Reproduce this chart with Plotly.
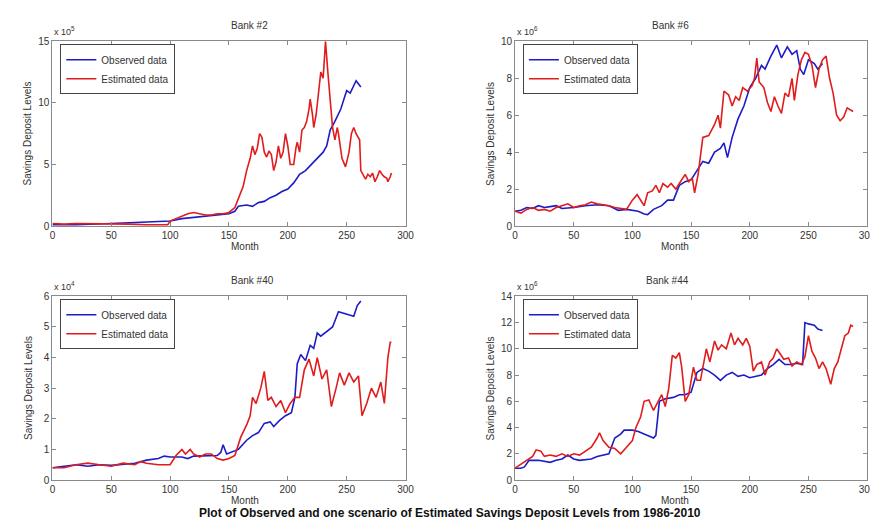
import plotly.graph_objects as go

# ─── 配色 ───
COLORS = {
    'observed':  '#1c1cc8',   # 蓝色 — 观测数据
    'estimated': '#e01c1c',   # 红色 — 估计数据
    'axis':      '#8a8a8a',
    'text':      '#333333',
}
FONT = 'Liberation Sans, Arial, sans-serif'

# ─── 数据（按坐标轴缩放后的数值） ───
# Bank #2  (x 10^5)
B2_OBS_M = [0, 20, 50, 80, 100, 110, 120, 130, 140, 150, 155, 158, 165, 170, 175, 180, 185, 190,
            195, 200, 205, 210, 215, 220, 225, 230, 233, 236, 240, 245, 250, 253, 258, 262]
B2_OBS_V = [0.1, 0.1, 0.2, 0.3, 0.4, 0.6, 0.7, 0.8, 0.9, 1.0, 1.2, 1.6, 1.7, 1.6, 1.9, 2.0, 2.3, 2.5,
            2.8, 3.0, 3.5, 4.2, 4.5, 5.0, 5.5, 6.0, 6.5, 7.8, 8.5, 9.5, 11.0, 10.8, 11.8, 11.3]
B2_EST_M = [0, 10, 20, 35, 50, 65, 80, 98, 100, 105, 110, 115, 120, 125, 130, 135, 140, 145, 150,
            155, 158, 162, 165, 168, 170, 172, 174, 176, 178, 180, 182, 184, 186, 188, 190, 192,
            194, 196, 198, 200, 202, 205, 207, 208, 210, 212, 214, 216, 218, 219, 221, 222, 224,
            225, 227, 228, 230, 231, 232, 234, 236, 238, 240, 242, 243, 246, 249, 252, 254, 256,
            258, 259, 261, 262, 264, 266, 268, 270, 272, 274, 276, 278, 280, 282, 284, 285, 287, 288]
B2_EST_V = [0.2, 0.15, 0.2, 0.2, 0.2, 0.15, 0.1, 0.1, 0.4, 0.6, 0.8, 1.0, 1.1, 1.0, 0.9, 0.9, 1.0,
            1.0, 1.1, 1.5, 2.2, 3.2, 4.5, 5.5, 6.5, 5.8, 6.3, 7.5, 7.2, 6.0, 5.6, 6.1, 5.8, 4.5,
            5.2, 6.5, 5.5, 6.0, 7.5, 6.5, 5.0, 5.0, 6.4, 6.8, 6.0, 7.8, 8.0, 8.5, 9.5, 10.3, 9.0,
            8.0, 9.0, 10.0, 11.5, 12.5, 12.0, 13.5, 15.0, 12.5, 10.0, 8.0, 7.0, 8.0, 7.5, 5.5,
            4.8, 6.0, 7.5, 8.0, 7.5, 7.3, 7.0, 4.5, 4.2, 3.8, 4.2, 4.0, 4.3, 3.6, 4.0, 4.5, 4.2,
            4.0, 3.9, 3.6, 4.0, 4.3]

# Bank #6  (x 10^6)
B6_OBS_M = [0, 5, 10, 15, 20, 25, 30, 35, 40, 50, 60, 70, 80, 88, 95, 100, 105, 110, 113, 118,
            125, 130, 135, 140, 145, 150, 155, 160, 165, 170, 175, 178, 181, 185, 190, 195, 200,
            205, 210, 213, 218, 223, 227, 232, 236, 240, 243, 246, 250, 255, 258, 262]
B6_OBS_V = [0.8, 0.85, 1.0, 0.95, 1.1, 1.0, 1.05, 1.1, 0.95, 1.0, 1.1, 1.15, 1.1, 0.85, 0.9, 0.85,
            0.8, 0.65, 0.62, 0.9, 1.1, 1.4, 1.4, 2.2, 2.4, 2.5, 3.0, 3.5, 3.4, 4.0, 4.2, 4.5, 3.7,
            4.8, 5.8, 6.5, 7.5, 8.0, 8.7, 8.5, 9.2, 9.8, 9.1, 9.7, 9.3, 9.5, 8.5, 8.2, 9.0, 8.8,
            8.5, 8.8]
B6_EST_M = [0, 5, 10, 15, 20, 25, 30, 35, 40, 45, 50, 55, 60, 65, 70, 75, 80, 85, 90, 95, 100,
            104, 108, 110, 113, 117, 120, 123, 126, 130, 133, 137, 140, 145, 148, 151, 153, 156,
            160, 165, 170, 173, 175, 178, 182, 185, 188, 191, 194, 198, 202, 204, 206, 208, 212,
            215, 218, 221, 224, 227, 230, 233, 236, 238, 241, 244, 247, 250, 253, 256, 259, 262,
            265, 268, 271, 274, 277, 280, 283, 286, 288]
B6_EST_V = [0.8, 0.7, 0.9, 1.0, 0.85, 0.9, 0.8, 1.0, 1.1, 1.2, 1.0, 1.1, 1.15, 1.3, 1.2, 1.15, 1.1,
            1.0, 0.95, 0.9, 1.4, 1.7, 1.3, 1.1, 1.8, 1.9, 2.2, 1.8, 2.3, 2.1, 2.3, 2.0, 2.3, 2.8,
            2.4, 2.6, 1.8, 2.8, 4.8, 4.9, 5.5, 6.0, 5.3, 7.3, 7.1, 6.5, 7.0, 6.8, 7.5, 7.3, 7.6,
            8.0, 9.1, 7.8, 7.5, 6.7, 6.2, 7.0, 6.5, 6.1, 7.2, 7.0, 8.0, 6.8, 8.2, 9.0, 9.4, 9.3,
            8.7, 7.5, 8.5, 9.0, 9.2, 8.0, 7.2, 6.0, 5.7, 5.9, 6.4, 6.3, 6.2]

# Bank #40  (x 10^4)
B40_OBS_M = [0, 10, 20, 30, 40, 50, 60, 70, 80, 90, 95, 100, 110, 115, 120, 130, 140, 143, 145,
             148, 152, 158, 165, 170, 175, 180, 185, 188, 193, 198, 203, 206, 208, 211, 215, 219,
             222, 225, 228, 233, 238, 243, 248, 253, 256, 259, 262]
B40_OBS_V = [0.4, 0.45, 0.5, 0.45, 0.5, 0.48, 0.52, 0.55, 0.65, 0.7, 0.78, 0.75, 0.75, 0.7, 0.78,
             0.8, 0.8, 0.9, 1.15, 0.85, 0.9, 1.0, 1.3, 1.45, 1.55, 1.85, 1.9, 1.75, 1.95, 2.1,
             2.2, 2.7, 3.8, 4.1, 3.9, 4.4, 4.3, 4.8, 4.7, 4.85, 5.0, 5.5, 5.45, 5.4, 5.35, 5.7, 5.85]
B40_EST_M = [0, 10, 20, 30, 40, 50, 60, 70, 75, 80, 90, 100, 105, 110, 113, 117, 120, 125, 130,
             135, 140, 145, 150, 155, 160, 165, 168, 170, 173, 177, 180, 183, 186, 190, 194, 198,
             202, 206, 210, 214, 218, 222, 225, 229, 233, 237, 241, 244, 248, 252, 256, 260, 263,
             267, 271, 275, 279, 282, 285, 287, 288]
B40_EST_V = [0.4, 0.4, 0.5, 0.55, 0.5, 0.45, 0.55, 0.5, 0.6, 0.55, 0.5, 0.5, 0.8, 1.0, 0.85, 1.0,
             0.85, 0.75, 0.85, 0.85, 0.7, 0.65, 0.7, 0.8, 1.4, 1.8, 2.1, 2.7, 2.5, 3.0, 3.55, 2.6,
             2.7, 2.4, 2.6, 2.2, 2.5, 2.7, 2.7, 3.6, 3.95, 3.4, 4.0, 3.3, 3.6, 2.4, 3.0, 3.5, 3.1,
             3.5, 3.2, 3.4, 2.1, 2.5, 3.0, 2.7, 3.2, 2.5, 4.0, 4.5, 4.5]

# Bank #44  (x 10^6)
B44_OBS_M = [0, 5, 8, 12, 20, 25, 30, 35, 40, 45, 50, 55, 60, 65, 70, 75, 80, 85, 90, 93, 100,
             105, 110, 118, 120, 123, 128, 135, 140, 145, 150, 153, 155, 160, 165, 170, 175, 180,
             185, 190, 195, 200, 205, 210, 215, 220, 225, 230, 235, 240, 245, 247, 250, 255, 258, 262]
B44_OBS_V = [0.9, 0.9, 1.0, 1.5, 1.5, 1.45, 1.35, 1.5, 1.6, 1.9, 1.6, 1.5, 1.55, 1.6, 1.8, 1.9,
             2.0, 3.2, 3.5, 3.8, 3.8, 3.7, 3.5, 3.2, 3.4, 6.0, 6.2, 6.3, 6.5, 6.5, 6.7, 7.5, 8.2,
             8.5, 8.3, 8.0, 7.6, 8.0, 8.2, 7.9, 8.0, 7.8, 7.9, 8.0, 8.5, 8.8, 9.2, 8.8, 8.8, 8.9,
             8.8, 12.0, 11.9, 11.8, 11.5, 11.4]
B44_EST_M = [0, 5, 10, 15, 18, 22, 25, 30, 35, 40, 45, 50, 55, 60, 65, 70, 72, 75, 80, 85, 90, 95,
             100, 103, 107, 110, 114, 118, 122, 125, 128, 131, 134, 137, 140, 142, 145, 148, 152,
             155, 158, 160, 163, 166, 170, 173, 176, 180, 184, 187, 190, 194, 197, 200, 203, 206,
             210, 213, 217, 220, 223, 226, 229, 233, 236, 240, 244, 247, 250, 253, 256, 259, 262,
             265, 269, 272, 275, 278, 281, 284, 286, 288]
B44_EST_V = [0.9, 1.2, 1.5, 1.8, 2.3, 2.2, 1.8, 1.9, 1.8, 2.0, 1.8, 2.0, 1.9, 2.2, 2.5, 3.2, 3.6,
             3.0, 2.5, 2.4, 2.0, 2.5, 3.0, 4.0, 4.8, 6.0, 6.1, 5.3, 6.0, 6.5, 5.6, 7.0, 9.5, 9.3,
             9.7, 8.6, 6.0, 6.5, 8.6, 7.6, 7.6, 8.6, 10.0, 9.0, 10.6, 9.9, 10.3, 10.0, 11.2, 10.3,
             10.8, 10.3, 10.8, 10.2, 8.3, 8.8, 9.0, 8.0, 9.0, 9.3, 10.0, 9.6, 9.2, 9.3, 8.7, 9.0,
             8.8, 9.4, 11.0, 9.8, 9.3, 8.5, 9.0, 8.5, 7.3, 8.5, 9.0, 10.0, 11.0, 11.2, 11.8, 11.7]

TITLES = ['Bank #2', 'Bank #6', 'Bank #40', 'Bank #44']
EXPONENTS = [5, 6, 4, 6]
Y_MAX = [15, 10, 6, 14]
Y_DTICK = [5, 2, 1, 2]
X_TICKS = [0, 50, 100, 150, 200, 250, 300]

SERIES = [
    (B2_OBS_M, B2_OBS_V, B2_EST_M, B2_EST_V),
    (B6_OBS_M, B6_OBS_V, B6_EST_M, B6_EST_V),
    (B40_OBS_M, B40_OBS_V, B40_EST_M, B40_EST_V),
    (B44_OBS_M, B44_OBS_V, B44_EST_M, B44_EST_V),
]

# ─── 子图位置（paper 坐标） ───
W, H = 878, 521
X_DOMAINS = [(42 / W, 400 / W), (511 / W, 868 / W)]
Y_DOMAINS = [(1 - 217 / H, 1 - 28 / H), (1 - 477 / H, 1 - 289 / H)]
MONTH_Y = [238, 498]          # "Month" 标签中心（像素）
YLABEL_X = [17, 486]          # 纵轴标签中心（像素）

fig = go.Figure()
layout = {}
annotations = []
label_font = dict(family=FONT, size=10, color=COLORS['text'])

for i, (obs_m, obs_v, est_m, est_v) in enumerate(SERIES):
    n = i + 1
    xa = 'x' if n == 1 else f'x{n}'
    ya = 'y' if n == 1 else f'y{n}'
    lg = 'legend' if n == 1 else f'legend{n}'
    xd = X_DOMAINS[i % 2]
    yd = Y_DOMAINS[i // 2]

    fig.add_trace(go.Scatter(
        x=obs_m, y=obs_v, mode='lines', xaxis=xa, yaxis=ya, legend=lg,
        line=dict(color=COLORS['observed'], width=1.6),
        name='Observed data',
    ))
    fig.add_trace(go.Scatter(
        x=est_m, y=est_v, mode='lines', xaxis=xa, yaxis=ya, legend=lg,
        line=dict(color=COLORS['estimated'], width=1.6),
        name='Estimated data',
    ))

    axis_common = dict(
        showline=True, linecolor=COLORS['axis'], linewidth=1, mirror='ticks',
        ticks='inside', ticklen=4, tickcolor=COLORS['axis'],
        showgrid=False, zeroline=False,
        tickfont=dict(family=FONT, size=10, color=COLORS['text']),
    )
    layout['xaxis' if n == 1 else f'xaxis{n}'] = dict(
        domain=list(xd), anchor=ya, range=[0, 300], tickvals=X_TICKS,
        **axis_common,
    )
    layout['yaxis' if n == 1 else f'yaxis{n}'] = dict(
        domain=list(yd), anchor=xa, range=[0, Y_MAX[i]], dtick=Y_DTICK[i],
        **axis_common,
    )
    layout[lg] = dict(
        x=xd[0] + 8 / W, y=yd[1] - 3 / H, xanchor='left', yanchor='top',
        xref='paper', yref='paper',
        bgcolor='white', bordercolor='#444444', borderwidth=1,
        font=dict(family=FONT, size=10, color=COLORS['text']),
        tracegroupgap=0, itemwidth=30,
    )

    # 子图标题
    annotations.append(dict(
        text=TITLES[i], x=(xd[0] + xd[1]) / 2, y=yd[1] + 9 / H,
        xref='paper', yref='paper', showarrow=False, yanchor='bottom',
        font=label_font,
    ))
    # 指数标记
    annotations.append(dict(
        text=f'x 10<sup>{EXPONENTS[i]}</sup>', x=xd[0], y=yd[1] + 2 / H,
        xref='paper', yref='paper', showarrow=False, xanchor='left', yanchor='bottom',
        font=dict(family=FONT, size=9, color=COLORS['text']),
    ))
    # 横轴标签
    annotations.append(dict(
        text='Month', x=(xd[0] + xd[1]) / 2, y=1 - MONTH_Y[i // 2] / H,
        xref='paper', yref='paper', showarrow=False, yanchor='middle',
        font=label_font,
    ))
    # 纵轴标签
    annotations.append(dict(
        text='Savings Deposit Levels', x=YLABEL_X[i % 2] / W, y=(yd[0] + yd[1]) / 2,
        xref='paper', yref='paper', showarrow=False, textangle=-90,
        xanchor='center', yanchor='middle', font=label_font,
    ))

# 总标题
annotations.append(dict(
    text='<b>Plot of Observed and one scenario of Estimated Savings Deposit Levels from 1986-2010</b>',
    x=445 / W, y=1 - 511 / H, xref='paper', yref='paper', showarrow=False,
    yanchor='middle', font=dict(family=FONT, size=12, color='#111111'),
))

fig.update_layout(
    width=W, height=H,
    margin=dict(l=0, r=0, t=0, b=0),
    paper_bgcolor='white', plot_bgcolor='white',
    showlegend=True,
    annotations=annotations,
    **layout,
)

fig.write_html("out.html")
